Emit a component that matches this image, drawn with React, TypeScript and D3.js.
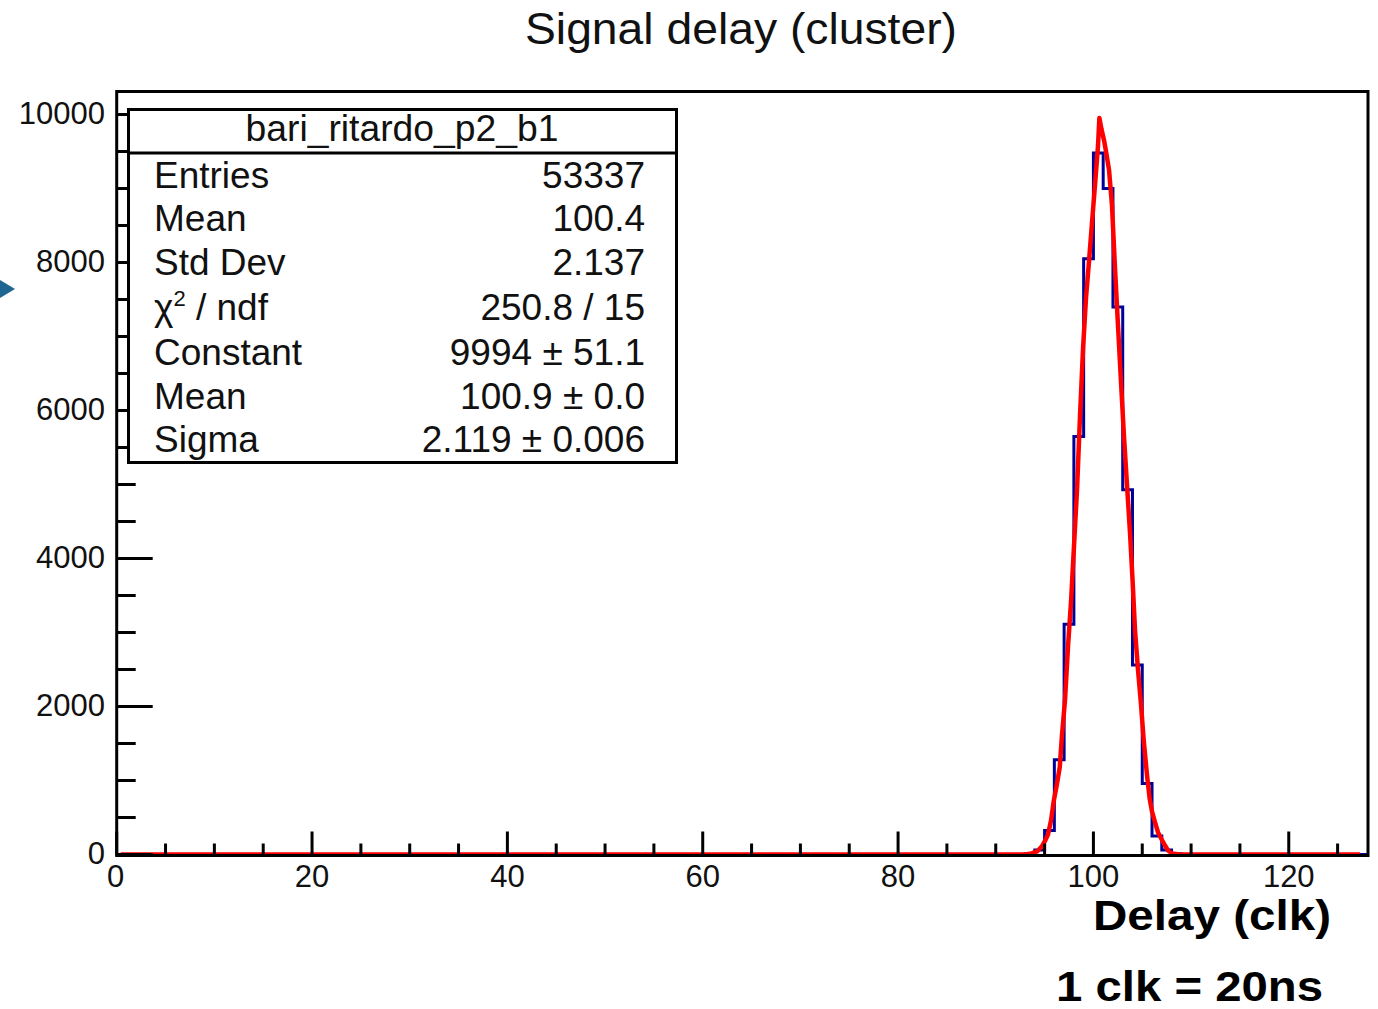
import React from "react";
import * as d3 from "d3";

// ---- data ----
const xTicksMajor = [0, 20, 40, 60, 80, 100, 120];
const yTicksMajor = [0, 2000, 4000, 6000, 8000, 10000];

// histogram (bin width 1, bins [n, n+1)), only non-empty bins listed
const histFirstBin = 93;
const histCounts = [10, 60, 325, 1280, 3110, 5650, 8050, 9480, 9000, 7400, 4930, 2560, 960, 250, 60, 10];
const histNBins = 128;

// fitted gaussian curve
const fitX = [0.4, 93.0, 93.68, 94.23, 94.71, 95.04, 95.35, 95.66, 95.93, 96.24, 96.55, 96.78, 97.09, 97.4, 97.71, 98.01, 98.32, 98.63, 98.94, 99.24, 99.55, 99.86, 100.17, 100.47, 100.61, 100.83, 101.09, 101.29, 101.6, 101.9, 102.21, 102.52, 102.83, 103.13, 103.44, 103.75, 104.02, 104.26, 104.57, 104.88, 105.15, 105.49, 105.77, 106.0, 106.31, 106.62, 106.99, 107.33, 107.64, 108.05, 108.8, 127.3];
const fitY = [0, 0, 14, 41, 108, 183, 270, 460, 717, 933, 1176, 1609, 2083, 2813, 3421, 4165, 4922, 5936, 6842, 7519, 8019, 8546, 9060, 9574, 9953, 9800, 9650, 9500, 9250, 8776, 7924, 7140, 6369, 5652, 4990, 4341, 3678, 3029, 2488, 2015, 1542, 1068, 744, 581, 433, 297, 203, 122, 54, 14, 0, 0];

const statsTitle = "bari_ritardo_p2_b1";
const statsLabels = ["Entries", "Mean", "Std Dev", "CHI", "Constant", "Mean", "Sigma"];
const statsValues = ["53337", "100.4", "2.137", "250.8 / 15", "9994 \u00b1 51.1", "100.9 \u00b1 0.0", "2.119 \u00b1 0.006"];

const chartTitle = "Signal delay (cluster)";
const xTitle = "Delay (clk)";
const note = "1 clk = 20ns";

export default function App() {
  const x = d3.scaleLinear().domain([0, 128]).range([116.7, 1366.9]);
  const y = d3.scaleLinear().domain([0, 10000]).range([854.5, 114.5]);

  const frame = { left: 116.7, right: 1368, top: 91.5, bottom: 855.5 };

  // full histogram
  const counts: number[] = [];
  for (let i = 0; i < histNBins; i++) {
    const k = i - histFirstBin;
    counts.push(k >= 0 && k < histCounts.length ? histCounts[k] : 0);
  }
  const histPts: [number, number][] = counts.map((c, i) => [i, c]);
  histPts.push([histNBins, counts[histNBins - 1]]);
  const histPath = d3
    .line<[number, number]>()
    .x((d) => x(d[0]))
    .y((d) => y(d[1]))
    .curve(d3.curveStepAfter)(histPts) as string;

  const fitPts: [number, number][] = fitX.map((v, i) => [v, fitY[i]]);
  const fitPath = d3
    .line<[number, number]>()
    .x((d) => x(d[0]))
    .y((d) => y(d[1]))(fitPts) as string;

  const xMinor = d3.range(0, 128.01, 5).filter((v) => v % 20 !== 0);
  const yMinor = d3.range(0, 10000.1, 500).filter((v) => v % 2000 !== 0);

  const font = "'Liberation Sans', Arial, Helvetica, sans-serif";
  const txt = "#111";

  const box = { x: 128.5, y: 109.5, w: 548, h: 353, header: 153 };
  const rowBase = [188, 231, 275, 320, 365, 409, 452];

  return (
    <svg
      width={1378}
      height={1009}
      style={{ position: "absolute", left: 0, top: 0, background: "#fff" }}
      fontFamily={font}
    >
      <rect x={0} y={0} width={1378} height={1009} fill="#fff" />
      {/* title */}
      <text x={741} y={44} fontSize={44} textAnchor="middle" fill={txt} textLength={432} lengthAdjust="spacingAndGlyphs">
        {chartTitle}
      </text>

      {/* left arrow marker */}
      <polygon points="0,280 15,289 0,298" fill="#1e6591" />

      {/* histogram */}
      <path d={histPath} fill="none" stroke="#000099" strokeWidth={3} />
      {/* fit */}
      <path d={fitPath} fill="none" stroke="#ff0000" strokeWidth={4.5} strokeLinejoin="round" />

      {/* frame */}
      <rect
        x={frame.left}
        y={frame.top}
        width={frame.right - frame.left}
        height={frame.bottom - frame.top}
        fill="none"
        stroke="#000"
        strokeWidth={3}
      />

      {/* x ticks */}
      {xTicksMajor.map((v) => (
        <line key={"xM" + v} x1={x(v)} x2={x(v)} y1={frame.bottom} y2={frame.bottom - 24} stroke="#000" strokeWidth={3} />
      ))}
      {xMinor.map((v) => (
        <line key={"xm" + v} x1={x(v)} x2={x(v)} y1={frame.bottom} y2={frame.bottom - 12} stroke="#000" strokeWidth={3} />
      ))}
      {xTicksMajor.map((v) => (
        <text key={"xl" + v} x={v === 0 ? x(v) - 1 : x(v)} y={887} fontSize={31} textAnchor="middle" fill={txt}>
          {v}
        </text>
      ))}

      {/* y ticks */}
      {yTicksMajor.map((v) => (
        <line key={"yM" + v} x1={frame.left} x2={frame.left + 36} y1={y(v)} y2={y(v)} stroke="#000" strokeWidth={3} />
      ))}
      {yMinor.map((v) => (
        <line key={"ym" + v} x1={frame.left} x2={frame.left + 19} y1={y(v)} y2={y(v)} stroke="#000" strokeWidth={3} />
      ))}
      {yTicksMajor.map((v) => (
        <text key={"yl" + v} x={105} y={y(v) - 1} fontSize={31} textAnchor="end" dominantBaseline="central" fill={txt}>
          {v}
        </text>
      ))}

      {/* stats box */}
      <rect x={box.x} y={box.y} width={box.w} height={box.h} fill="#fff" stroke="#000" strokeWidth={3} />
      <line x1={box.x} x2={box.x + box.w} y1={box.header} y2={box.header} stroke="#000" strokeWidth={3} />
      <text x={402} y={141} fontSize={36} textAnchor="middle" fill={txt} textLength={313} lengthAdjust="spacingAndGlyphs">
        {statsTitle}
      </text>
      {statsLabels.map((l, i) => (
        <text key={"sl" + i} x={154} y={rowBase[i]} fontSize={37} fill={txt}>
          {l === "CHI" ? (
            <>
              <tspan>{"\u03c7"}</tspan>
              <tspan fontSize={22} dy={-14}>2</tspan>
              <tspan dy={14}>{" / ndf"}</tspan>
            </>
          ) : (
            l
          )}
        </text>
      ))}
      {statsValues.map((v, i) => (
        <text key={"sv" + i} x={645} y={rowBase[i]} fontSize={37} textAnchor="end" fill={txt}>
          {v}
        </text>
      ))}

      {/* axis title and note */}
      <text x={1331} y={930} fontSize={43} fontWeight="bold" textAnchor="end" fill="#000" textLength={238} lengthAdjust="spacingAndGlyphs">
        {xTitle}
      </text>
      <text x={1323} y={1001} fontSize={43} fontWeight="bold" textAnchor="end" fill="#000" textLength={267} lengthAdjust="spacingAndGlyphs">
        {note}
      </text>
    </svg>
  );
}
